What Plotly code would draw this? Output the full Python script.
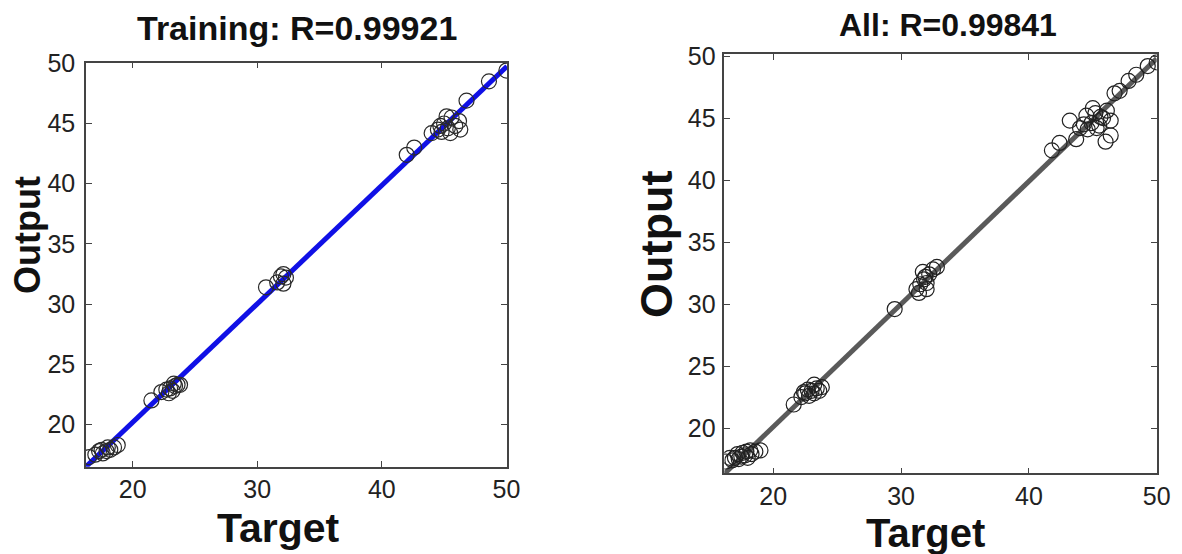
import plotly.graph_objects as go

W, H = 1182, 554
OFF = 8  # page body margin offset (px)

# ---- data ----
train_target = [16.5, 17.0, 17.3, 17.6, 17.9, 18.2, 18.5, 18.8, 17.5, 18.0,
                21.5, 22.3, 22.7, 23.0, 23.2, 23.4, 23.6, 23.8, 22.9, 23.3,
                30.7, 31.6, 31.9, 32.1, 32.3, 32.1,
                42.0, 42.6, 44.0, 44.5, 44.8, 45.0, 45.3, 45.6, 45.9, 46.2,
                46.3, 45.2, 44.7, 45.5, 46.8, 48.6, 50.0]
train_output = [17.3, 17.5, 17.8, 17.6, 17.8, 17.9, 18.1, 18.3, 17.9, 18.1,
                22.0, 22.7, 22.9, 23.0, 22.8, 23.2, 23.3, 23.3, 22.6, 23.4,
                31.4, 31.8, 32.3, 31.7, 32.2, 32.5,
                42.4, 43.0, 44.2, 44.5, 44.3, 45.0, 44.6, 45.5, 44.8, 45.2,
                44.5, 45.6, 44.8, 44.2, 46.9, 48.5, 49.4]

all_target = [16.3, 16.8, 17.0, 17.3, 17.5, 17.8, 18.0, 18.3, 18.6, 19.0, 17.2, 17.6, 18.2, 16.6, 17.9,
              21.6, 22.2, 22.5, 22.8, 23.0, 23.2, 23.4, 23.6, 22.7, 23.8, 23.2, 22.4,
              29.5, 31.2, 31.5, 31.8, 32.0, 32.2, 32.5, 31.7, 31.4, 32.0, 32.8, 31.9,
              41.8, 42.4, 43.2, 43.7, 44.0, 44.3, 44.6, 44.9, 45.2, 45.5, 45.8, 46.1, 46.4,
              46.0, 46.4, 44.5, 45.0, 45.6, 46.7, 47.1, 47.8, 48.4, 49.3, 50.0, 45.3]
all_output = [17.3, 17.4, 17.6, 17.5, 17.7, 17.8, 17.6, 17.9, 18.1, 18.2, 17.9, 18.0, 18.2, 17.6, 18.1,
              21.9, 22.5, 22.8, 22.6, 23.0, 22.8, 23.2, 23.0, 23.1, 23.3, 23.5, 22.9,
              29.6, 31.2, 31.6, 32.0, 31.7, 32.4, 32.8, 32.6, 30.9, 31.2, 33.0, 32.2,
              42.4, 43.0, 44.8, 43.3, 44.2, 44.5, 44.1, 44.6, 45.4, 44.4, 45.0, 45.6, 44.8,
              43.1, 43.6, 45.2, 45.8, 45.1, 47.0, 47.2, 48.0, 48.5, 49.2, 49.5, 44.2]

# fit lines (slope, intercept) and axis limits
train_fit = (0.9837, 0.515)
all_fit = (0.99, 0.30)
train_xlim, train_ylim = [16.25, 50.05], [16.5, 50.05]
all_xlim, all_ylim = [16.17, 50.0], [16.35, 50.15]

x_ticks = [20, 30, 40, 50]
y_ticks = [20, 25, 30, 35, 40, 45, 50]

titles = ["Training: R=0.99921", "All: R=0.99841"]
xlabel, ylabel = "Target", "Output"

FONT = "Liberation Sans, Arial, sans-serif"

fig = go.Figure()

# left panel
fig.add_trace(go.Scatter(x=train_xlim, y=[train_fit[0] * v + train_fit[1] for v in train_xlim],
                         mode="lines", line=dict(color="#1010e6", width=5),
                         xaxis="x", yaxis="y", showlegend=False, hoverinfo="skip"))
fig.add_trace(go.Scatter(x=train_target, y=train_output, mode="markers",
                         marker=dict(symbol="circle-open", size=15, color="#2a2a2a",
                                     line=dict(width=1.2, color="#2a2a2a")),
                         xaxis="x", yaxis="y", showlegend=False))
# right panel
fig.add_trace(go.Scatter(x=all_xlim, y=[all_fit[0] * v + all_fit[1] for v in all_xlim],
                         mode="lines", line=dict(color="#5a5a5a", width=5),
                         xaxis="x2", yaxis="y2", showlegend=False, hoverinfo="skip"))
fig.add_trace(go.Scatter(x=all_target, y=all_output, mode="markers",
                         marker=dict(symbol="circle-open", size=15, color="#222222",
                                     line=dict(width=1.2, color="#222222")),
                         xaxis="x2", yaxis="y2", showlegend=False))

axis_common = dict(showgrid=False, zeroline=False, showline=True, linecolor="#444",
                   linewidth=1.5, mirror="ticks", ticks="inside", ticklen=6, automargin=False,
                   tickcolor="#444", tickfont=dict(family=FONT, size=25, color="#222"))

# pixel-based domains (target-picture pixels, corrected for page offset)
def xd(a, b):
    return [(a - OFF) / W, (b - OFF) / W]

def yd(top, bottom):
    return [1 - (bottom - OFF) / H, 1 - (top - OFF) / H]

fig.update_layout(
    template="none",
    width=W, height=H, margin=dict(l=0, r=0, t=0, b=0, pad=0), autosize=False,
    paper_bgcolor="white", plot_bgcolor="white",
    xaxis=dict(domain=xd(86, 507), range=train_xlim, tickvals=x_ticks, anchor="y", **axis_common),
    yaxis=dict(domain=yd(62.7, 466.7), range=train_ylim, tickvals=y_ticks, anchor="x",
               ticklabelstandoff=4, **axis_common),
    xaxis2=dict(domain=xd(724.3, 1156.7), range=all_xlim, tickvals=x_ticks, anchor="y2", **axis_common),
    yaxis2=dict(domain=yd(54.3, 473.3), range=all_ylim, tickvals=y_ticks, anchor="x2",
                ticklabelstandoff=2, **axis_common),
)

def ann(text, x, y, size, angle=0):
    fig.add_annotation(text=f"<b>{text}</b>", x=(x - OFF) / W, y=1 - (y - OFF) / H,
                       xref="paper", yref="paper",
                       showarrow=False, textangle=angle, xanchor="center", yanchor="middle",
                       font=dict(family=FONT, size=size, color="#111"))

ann(titles[0], 297, 28, 34)
ann(titles[1], 948, 25, 32)
ann(xlabel, 278, 528, 41)
ann(xlabel, 925, 533, 40)
ann(ylabel, 27, 235, 36, -90)
ann(ylabel, 657, 245, 45, -90)

fig.write_html("out.html")
